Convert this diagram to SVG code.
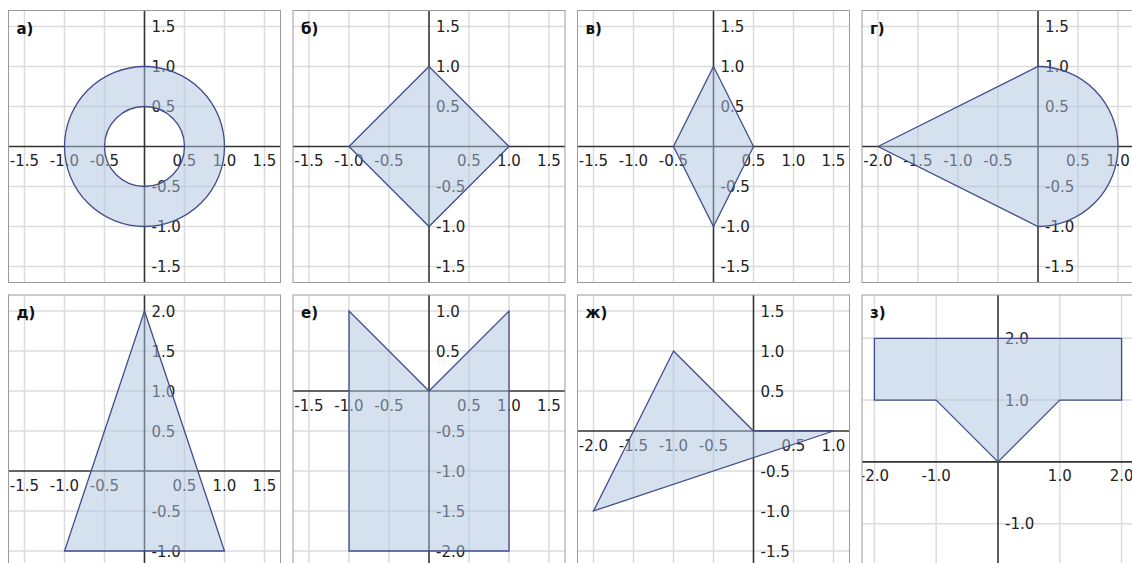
<svg xmlns="http://www.w3.org/2000/svg" width="1132" height="563" viewBox="0 0 1132 563">
<style>
.bg{fill:#fff}
.frame{fill:none;stroke:#9a9a9a;stroke-width:1}
.grid{stroke:#dcdcdc;stroke-width:1.5;fill:none}
.axis{stroke:#333;stroke-width:1.6;fill:none}
.t{font-family:"DejaVu Sans",sans-serif;font-size:15px;fill:#222}
.xt{text-anchor:middle}
.lbl{font-family:"DejaVu Sans",sans-serif;font-size:15px;font-weight:bold;fill:#111}
.shape{fill:#adc4e2;fill-opacity:0.5;stroke:#404d8a;stroke-width:1.3;stroke-linejoin:miter}
</style>
<defs>
<clipPath id="cS"><rect x="-136" y="-136" width="272" height="272"/></clipPath>
<clipPath id="cL"><rect x="-176" y="-136" width="272" height="272"/></clipPath>
<clipPath id="cT"><rect x="-136" y="-176" width="272" height="272"/></clipPath>
<clipPath id="cB"><rect x="-136" y="-96" width="272" height="272"/></clipPath>
<clipPath id="cZ"><rect x="-136" y="-166.9" width="272" height="272"/></clipPath>
</defs>
<rect class="bg" x="0" y="0" width="1132" height="563"/>

<!-- а -->
<g id="panel-a" transform="translate(144.5,146.5)">
<g clip-path="url(#cS)">
<path class="grid" d="M-120,-136V136M-80,-136V136M-40,-136V136M40,-136V136M80,-136V136M120,-136V136M-136,-120H136M-136,-80H136M-136,-40H136M-136,40H136M-136,80H136M-136,120H136"/>
<path class="axis" d="M-136,0H136M0,-136V136"/>
<g class="t xt"><text x="-120" y="19.5">-1.5</text><text x="-80" y="19.5">-1.0</text><text x="-40" y="19.5">-0.5</text><text x="40" y="19.5">0.5</text><text x="80" y="19.5">1.0</text><text x="120" y="19.5">1.5</text></g>
<g class="t"><text x="7" y="-114.5">1.5</text><text x="7" y="-74.5">1.0</text><text x="7" y="-34.5">0.5</text><text x="7" y="45.5">-0.5</text><text x="7" y="85.5">-1.0</text><text x="7" y="125.5">-1.5</text></g>
<path class="shape" fill-rule="evenodd" d="M-80,0A80,80 0 1,0 80,0A80,80 0 1,0 -80,0ZM-40,0A40,40 0 1,0 40,0A40,40 0 1,0 -40,0Z"/>
</g>
<rect class="frame" x="-136" y="-136" width="272" height="272"/>
<text class="lbl" x="-128" y="-113">а)</text>
</g>

<!-- б -->
<g id="panel-b" transform="translate(429,146.5)">
<g clip-path="url(#cS)">
<path class="grid" d="M-120,-136V136M-80,-136V136M-40,-136V136M40,-136V136M80,-136V136M120,-136V136M-136,-120H136M-136,-80H136M-136,-40H136M-136,40H136M-136,80H136M-136,120H136"/>
<path class="axis" d="M-136,0H136M0,-136V136"/>
<g class="t xt"><text x="-120" y="19.5">-1.5</text><text x="-80" y="19.5">-1.0</text><text x="-40" y="19.5">-0.5</text><text x="40" y="19.5">0.5</text><text x="80" y="19.5">1.0</text><text x="120" y="19.5">1.5</text></g>
<g class="t"><text x="7" y="-114.5">1.5</text><text x="7" y="-74.5">1.0</text><text x="7" y="-34.5">0.5</text><text x="7" y="45.5">-0.5</text><text x="7" y="85.5">-1.0</text><text x="7" y="125.5">-1.5</text></g>
<polygon class="shape" points="0,-80 80,0 0,80 -80,0"/>
</g>
<rect class="frame" x="-136" y="-136" width="272" height="272"/>
<text class="lbl" x="-128" y="-113">б)</text>
</g>

<!-- в -->
<g id="panel-v" transform="translate(713.5,146.5)">
<g clip-path="url(#cS)">
<path class="grid" d="M-120,-136V136M-80,-136V136M-40,-136V136M40,-136V136M80,-136V136M120,-136V136M-136,-120H136M-136,-80H136M-136,-40H136M-136,40H136M-136,80H136M-136,120H136"/>
<path class="axis" d="M-136,0H136M0,-136V136"/>
<g class="t xt"><text x="-120" y="19.5">-1.5</text><text x="-80" y="19.5">-1.0</text><text x="-40" y="19.5">-0.5</text><text x="40" y="19.5">0.5</text><text x="80" y="19.5">1.0</text><text x="120" y="19.5">1.5</text></g>
<g class="t"><text x="7" y="-114.5">1.5</text><text x="7" y="-74.5">1.0</text><text x="7" y="-34.5">0.5</text><text x="7" y="45.5">-0.5</text><text x="7" y="85.5">-1.0</text><text x="7" y="125.5">-1.5</text></g>
<polygon class="shape" points="0,-80 40,0 0,80 -40,0"/>
</g>
<rect class="frame" x="-136" y="-136" width="272" height="272"/>
<text class="lbl" x="-128" y="-113">в)</text>
</g>

<!-- г -->
<g id="panel-g" transform="translate(1038,146.5)">
<g clip-path="url(#cL)">
<path class="grid" d="M-160,-136V136M-120,-136V136M-80,-136V136M-40,-136V136M40,-136V136M80,-136V136M-176,-120H96M-176,-80H96M-176,-40H96M-176,40H96M-176,80H96M-176,120H96"/>
<path class="axis" d="M-176,0H96M0,-136V136"/>
<g class="t xt"><text x="-160" y="19.5">-2.0</text><text x="-120" y="19.5">-1.5</text><text x="-80" y="19.5">-1.0</text><text x="-40" y="19.5">-0.5</text><text x="40" y="19.5">0.5</text><text x="80" y="19.5">1.0</text></g>
<g class="t"><text x="7" y="-114.5">1.5</text><text x="7" y="-74.5">1.0</text><text x="7" y="-34.5">0.5</text><text x="7" y="45.5">-0.5</text><text x="7" y="85.5">-1.0</text><text x="7" y="125.5">-1.5</text></g>
<path class="shape" d="M-160,0L0,-80A80,80 0 0,1 0,80Z"/>
</g>
<rect class="frame" x="-176" y="-136" width="272" height="272"/>
<text class="lbl" x="-168" y="-113">г)</text>
</g>

<!-- д -->
<g id="panel-d" transform="translate(144.5,471)">
<g clip-path="url(#cT)">
<path class="grid" d="M-120,-176V96M-80,-176V96M-40,-176V96M40,-176V96M80,-176V96M120,-176V96M-136,-160H136M-136,-120H136M-136,-80H136M-136,-40H136M-136,40H136M-136,80H136"/>
<path class="axis" d="M-136,0H136M0,-176V96"/>
<g class="t xt"><text x="-120" y="19.5">-1.5</text><text x="-80" y="19.5">-1.0</text><text x="-40" y="19.5">-0.5</text><text x="40" y="19.5">0.5</text><text x="80" y="19.5">1.0</text><text x="120" y="19.5">1.5</text></g>
<g class="t"><text x="7" y="-154.5">2.0</text><text x="7" y="-114.5">1.5</text><text x="7" y="-74.5">1.0</text><text x="7" y="-34.5">0.5</text><text x="7" y="45.5">-0.5</text><text x="7" y="85.5">-1.0</text></g>
<polygon class="shape" points="0,-160 80,80 -80,80"/>
</g>
<rect class="frame" x="-136" y="-176" width="272" height="272"/>
<text class="lbl" x="-128" y="-153">д)</text>
</g>

<!-- е -->
<g id="panel-e" transform="translate(429,391)">
<g clip-path="url(#cB)">
<path class="grid" d="M-120,-96V176M-80,-96V176M-40,-96V176M40,-96V176M80,-96V176M120,-96V176M-136,-80H136M-136,-40H136M-136,40H136M-136,80H136M-136,120H136M-136,160H136"/>
<path class="axis" d="M-136,0H136M0,-96V176"/>
<g class="t xt"><text x="-120" y="19.5">-1.5</text><text x="-80" y="19.5">-1.0</text><text x="-40" y="19.5">-0.5</text><text x="40" y="19.5">0.5</text><text x="80" y="19.5">1.0</text><text x="120" y="19.5">1.5</text></g>
<g class="t"><text x="7" y="-74.5">1.0</text><text x="7" y="-34.5">0.5</text><text x="7" y="45.5">-0.5</text><text x="7" y="85.5">-1.0</text><text x="7" y="125.5">-1.5</text><text x="7" y="165.5">-2.0</text></g>
<polygon class="shape" points="-80,-80 0,0 80,-80 80,160 -80,160"/>
</g>
<rect class="frame" x="-136" y="-96" width="272" height="272"/>
<text class="lbl" x="-128" y="-73">е)</text>
</g>

<!-- ж -->
<g id="panel-zh" transform="translate(753.5,431)">
<g clip-path="url(#cL)">
<path class="grid" d="M-160,-136V136M-120,-136V136M-80,-136V136M-40,-136V136M40,-136V136M80,-136V136M-176,-120H96M-176,-80H96M-176,-40H96M-176,40H96M-176,80H96M-176,120H96"/>
<path class="axis" d="M-176,0H96M0,-136V136"/>
<g class="t xt"><text x="-160" y="19.5">-2.0</text><text x="-120" y="19.5">-1.5</text><text x="-80" y="19.5">-1.0</text><text x="-40" y="19.5">-0.5</text><text x="40" y="19.5">0.5</text><text x="80" y="19.5">1.0</text></g>
<g class="t"><text x="7" y="-114.5">1.5</text><text x="7" y="-74.5">1.0</text><text x="7" y="-34.5">0.5</text><text x="7" y="45.5">-0.5</text><text x="7" y="85.5">-1.0</text><text x="7" y="125.5">-1.5</text></g>
<polygon class="shape" points="-80,-80 0,0 80,0 -160,80"/>
</g>
<rect class="frame" x="-176" y="-136" width="272" height="272"/>
<text class="lbl" x="-168" y="-113">ж)</text>
</g>

<!-- з -->
<g id="panel-z" transform="translate(998,461.9)">
<g clip-path="url(#cZ)">
<path class="grid" d="M-123.6,-166.9V105.1M-61.8,-166.9V105.1M61.8,-166.9V105.1M123.6,-166.9V105.1M-136,-123.6H136M-136,-61.8H136M-136,61.8H136"/>
<path class="axis" d="M-136,0H136M0,-166.9V105.1"/>
<g class="t xt"><text x="-123.6" y="19.5">-2.0</text><text x="-61.8" y="19.5">-1.0</text><text x="61.8" y="19.5">1.0</text><text x="123.6" y="19.5">2.0</text></g>
<g class="t"><text x="7" y="-118.1">2.0</text><text x="7" y="-56.3">1.0</text><text x="7" y="67.3">-1.0</text></g>
<polygon class="shape" points="-123.6,-123.6 123.6,-123.6 123.6,-61.8 61.8,-61.8 0,0 -61.8,-61.8 -123.6,-61.8"/>
</g>
<rect class="frame" x="-136" y="-166.9" width="272" height="272"/>
<text class="lbl" x="-128" y="-143.9">з)</text>
</g>
</svg>
